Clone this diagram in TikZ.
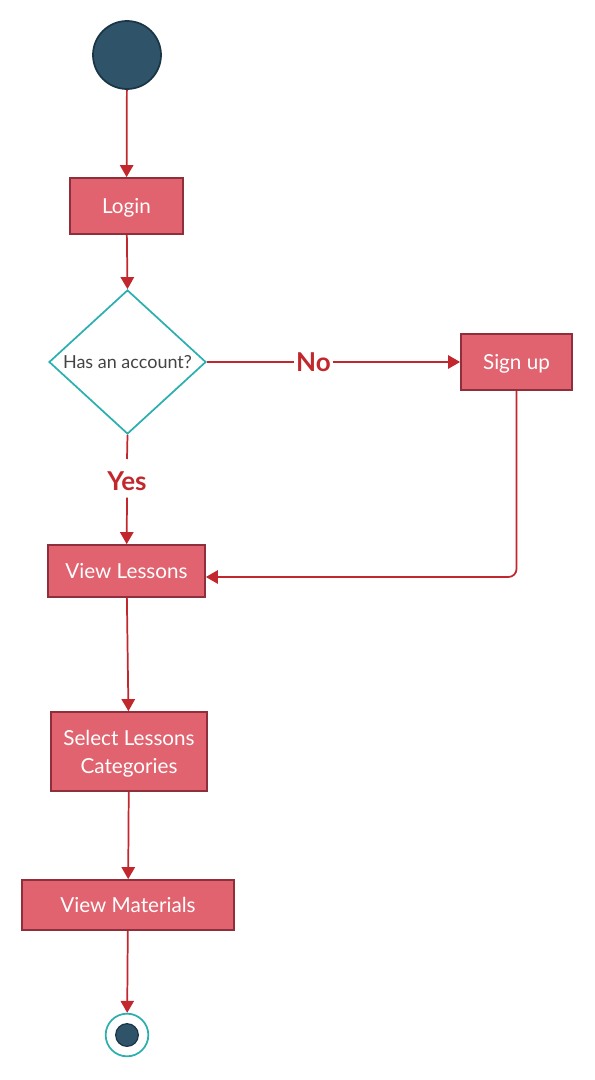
\documentclass[tikz,border=0pt]{standalone}
\usepackage{fontspec}
\setmainfont{Lato}
\usetikzlibrary{shapes.geometric,arrows.meta}

\definecolor{boxfill}{HTML}{E0636F}
\definecolor{boxline}{HTML}{8E2F3B}
\definecolor{flowred}{HTML}{C1272D}
\definecolor{tealline}{HTML}{2BB0AF}
\definecolor{darkfill}{HTML}{2F5469}
\definecolor{darkline}{HTML}{1A3545}
\definecolor{asktext}{HTML}{444444}

\tikzset{every picture/.style={line width=0.75pt}}
\tikzset{
  actbox/.style={draw=boxline, fill=boxfill, line width=1.3pt, text=white,
    font=\fontsize{15.5}{21}\selectfont, align=center, inner sep=0pt, text depth=0pt},
  askbox/.style={diamond, draw=tealline, line width=1.3pt, text=asktext,
    font=\fontsize{13.5}{15}\selectfont, inner sep=0pt, aspect=1.09},
  flow/.style={draw=flowred, line width=1.3pt, -{Triangle[length=9pt,width=10pt]}},
  plainflow/.style={draw=flowred, line width=1.3pt},
  branch/.style={text=flowred, font=\fontsize{19.5}{22}\selectfont\bfseries, inner sep=1pt}
}

\begin{document}
\begin{tikzpicture}[x=0.75pt,y=0.75pt,yscale=-1,xscale=1]
\useasboundingbox (0,0) rectangle (595,1080);

%Start node
\node (start) [circle, draw=darkline, fill=darkfill, line width=1.3pt, minimum size=51pt, inner sep=0pt] at (127,55) {};
%Actions
\node (login) [actbox, minimum width=84.75pt, minimum height=42pt] at (126.5,206) {Login};
\node (ask) [askbox, minimum width=117.75pt, minimum height=108pt] at (127.5,362) {Has an account?};
\node (signup) [actbox, minimum width=83.25pt, minimum height=42pt] at (516.5,362) {Sign up};
\node (viewlessons) [actbox, minimum width=117.75pt, minimum height=39pt] at (126.5,571) {View Lessons};
\node (category) [actbox, minimum width=117pt, minimum height=59.25pt] at (129,751.5) {Select Lessons\\Categories};
\node (materials) [actbox, minimum width=159pt, minimum height=37.5pt] at (128,905) {View Materials};
%End node
\node (stop) [circle, draw=tealline, line width=1.3pt, minimum size=32pt, inner sep=0pt] at (127,1035) {};
\node (stopdot) [circle, draw=darkline, fill=darkfill, line width=0.9pt, minimum size=17pt, inner sep=0pt] at (127,1035) {};

%Branch labels
\node (no) [branch] at (313.5,362) {No};
\node (yes) [branch] at (127,481) {Yes};

%Connectors
\draw [flow] (start) -- (login);
\draw [flow] (login) -- (ask.north);
\draw [plainflow] (ask.east) -- (no);
\draw [flow] (no) -- (signup);
\draw [plainflow] (ask.south) -- ([yshift=-8pt]yes.north);
\draw [flow] ([yshift=4pt]yes.south) -- (viewlessons);
\draw [flow, rounded corners=6pt] (signup.south) |- ([yshift=4.5pt]viewlessons.east);
\draw [flow] (viewlessons) -- (category);
\draw [flow] (category) -- (materials);
\draw [flow] (materials) -- (stop);
\end{tikzpicture}
\end{document}
